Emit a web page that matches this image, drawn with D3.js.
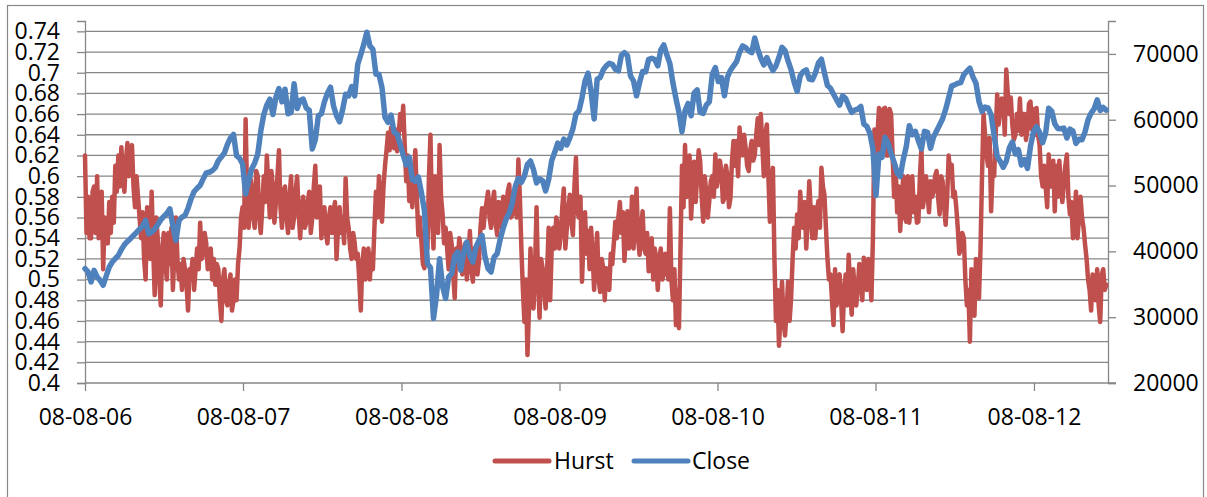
<!DOCTYPE html>
<html><head><meta charset="utf-8">
<script src="https://cdn.jsdelivr.net/npm/d3@7"></script>
<style>
body{margin:0;background:#fff}
svg{display:block}
text{font-family:"Open Sans",sans-serif;fill:#000}
</style>
</head><body>
<svg id="c" width="1207" height="497"></svg>
<script>
// ---- data ----
const startDate = "2006-08-08";
const endDate = "2013-01-26";
const stepDays = 7;          // weekly samples
const seriesNames = ["Hurst", "Close"];
const seriesColors = ["#C0504D", "#4F81BD"];
const xTickDates = ["2006-08-08","2007-08-08","2008-08-08","2009-08-08","2010-08-08","2011-08-08","2012-08-08"];
const leftTicks = [0.4,0.42,0.44,0.46,0.48,0.5,0.52,0.54,0.56,0.58,0.6,0.62,0.64,0.66,0.68,0.7,0.72,0.74];
const rightTicks = [20000,30000,40000,50000,60000,70000];

// Hurst read at each week
const hurstWeekly = [
0.62,0.58,0.54,0.59,0.60,0.56,0.51,0.55,0.575,0.58,
0.61,0.62,0.628,0.585,0.632,0.62,0.59,0.60,0.56,0.565,
0.50,0.55,0.585,0.485,0.54,0.475,0.545,0.50,0.515,0.49,
0.56,0.50,0.49,0.51,0.47,0.505,0.49,0.53,0.555,0.525,
0.535,0.515,0.50,0.495,0.51,0.46,0.51,0.475,0.505,0.48,
0.48,0.53,0.57,0.655,0.55,0.59,0.55,0.60,0.545,0.60,
0.62,0.56,0.59,0.575,0.625,0.55,0.59,0.545,0.60,0.56,
0.60,0.54,0.58,0.555,0.585,0.56,0.61,0.575,0.54,0.57,
0.535,0.57,0.565,0.52,0.57,
0.56,0.598,0.55,0.52,0.535,0.525,0.47,0.53,0.52,0.50,
0.51,0.585,0.60,0.556,0.61,0.642,0.647,0.627,0.624,0.66,
0.668,0.595,0.576,0.57,0.625,0.543,0.537,0.511,0.53,0.64,
0.53,0.563,0.63,0.563,0.55,0.51,0.534,0.482,0.518,0.53,
0.524,0.50,0.547,0.498,0.524,0.518,0.569,0.566,0.585,0.55,
0.585,0.543,0.563,0.58,0.569,0.592,0.563,0.576,0.616,0.53,
0.459,0.427,0.53,0.472,0.57,0.463,0.511,0.472,0.55,0.53,
0.53,0.553,0.543,0.588,0.55,0.582,0.543,0.618,0.56,0.498,
0.565,0.547,0.55,0.49,
0.545,0.488,0.511,0.511,0.49,0.515,0.556,0.56,0.545,0.518,
0.566,0.54,0.53,0.588,0.524,0.566,0.525,0.508,0.54,0.53,
0.49,0.53,0.505,0.52,0.569,0.48,0.456,0.453,0.61,0.63,
0.582,0.559,0.614,0.60,0.614,0.556,0.585,0.576,0.60,0.621,
0.60,0.605,0.579,0.60,0.579,0.634,0.634,0.647,0.62,0.627,
0.605,0.634,0.62,0.656,0.66,0.60,0.65,0.556,0.608,0.46,
0.436,0.498,0.446,0.498,0.482,0.55,0.563,0.585,0.55,0.53,
0.595,0.54,0.54,0.576,0.608,0.582,0.52,0.505,0.456,0.475,
0.505,0.45,0.505,0.524,
0.466,0.49,0.492,0.50,0.521,0.49,0.505,0.54,0.60,0.666,
0.63,0.666,0.62,0.66,0.58,0.565,0.547,0.60,0.556,0.555,
0.60,0.58,0.556,0.627,0.582,0.585,0.595,0.585,0.605,0.563,
0.595,0.553,0.62,0.611,0.585,0.55,0.53,0.54,0.475,0.44,
0.49,0.52,0.482,0.60,0.64,0.61,0.566,0.60,0.679,0.665,
0.672,0.703,0.66,0.65,0.64,0.644,0.64,0.66,0.645,0.672,
0.665,0.666,0.63,0.59,0.59,0.621,0.59,0.566,0.58,0.595,
0.592,0.621,0.563,0.54,0.585,0.56,0.56,0.534,0.50,0.47,
0.50,0.51,0.459,0.51,0.495
];

// Hurst read half a week after each weekly sample
const hurstMidweek = [
0.545,0.54,0.585,0.545,0.54,0.585,0.56,0.535,0.545,0.555,
0.585,0.59,0.60,0.615,0.60,0.63,0.57,0.58,0.54,0.52,
0.57,0.52,0.53,0.56,0.50,0.53,0.515,0.545,0.55,0.525,
0.52,0.515,0.52,0.495,0.51,0.52,0.51,0.51,0.52,0.545,
0.51,0.53,0.52,0.515,0.48,0.50,0.48,0.495,0.47,0.50,
0.515,0.56,0.55,0.58,0.60,0.56,0.605,0.56,0.57,0.575,
0.59,0.605,0.555,0.60,0.57,0.585,0.56,0.58,0.55,0.585,
0.565,0.57,0.55,0.575,0.545,0.59,0.56,0.59,0.56,0.545,
0.56,0.545,0.575,0.55,0.545,
0.535,0.56,0.53,0.545,0.52,0.50,0.515,0.50,0.53,0.525,
0.55,0.56,0.575,0.59,0.625,0.625,0.635,0.645,0.64,0.645,
0.63,0.62,0.60,0.60,0.58,0.56,0.515,0.545,0.60,0.56,
0.60,0.545,0.58,0.535,0.53,0.545,0.505,0.53,0.54,0.505,
0.535,0.52,0.51,0.53,0.505,0.55,0.55,0.575,0.56,0.575,
0.555,0.575,0.55,0.555,0.585,0.56,0.585,0.56,0.58,0.49,
0.50,0.47,0.49,0.51,0.50,0.52,0.49,0.51,0.48,0.55,
0.56,0.53,0.57,0.53,0.57,0.555,0.59,0.565,0.58,0.54,
0.525,0.51,0.525,0.52,
0.50,0.52,0.48,0.495,0.525,0.535,0.54,0.575,0.565,0.545,
0.53,0.58,0.56,0.54,0.55,0.53,0.545,0.525,0.50,0.52,
0.52,0.50,0.525,0.50,0.50,0.51,0.49,0.53,0.57,0.58,
0.62,0.59,0.575,0.625,0.58,0.60,0.56,0.595,0.58,0.59,
0.615,0.575,0.61,0.57,0.615,0.61,0.60,0.625,0.64,0.61,
0.625,0.615,0.64,0.63,0.63,0.64,0.60,0.59,0.52,0.49,
0.465,0.46,0.47,0.46,0.52,0.53,0.54,0.56,0.575,0.56,
0.565,0.57,0.565,0.55,0.59,0.55,0.50,0.48,0.51,0.50,
0.48,0.49,0.475,0.49,
0.51,0.475,0.515,0.48,0.50,0.52,0.48,0.645,0.64,0.62,
0.665,0.62,0.665,0.62,0.61,0.59,0.575,0.56,0.60,0.575,
0.565,0.555,0.60,0.57,0.60,0.565,0.58,0.60,0.58,0.60,
0.57,0.58,0.60,0.58,0.57,0.525,0.545,0.50,0.49,0.51,
0.465,0.50,0.53,0.66,0.62,0.637,0.605,0.64,0.65,0.675,
0.64,0.68,0.676,0.635,0.66,0.675,0.66,0.635,0.67,0.645,
0.64,0.64,0.60,0.61,0.57,0.59,0.615,0.61,0.615,0.575,
0.61,0.58,0.575,0.555,0.54,0.58,0.55,0.52,0.49,0.505,
0.48,0.475,0.505,0.49
];

// Close read at each week
const close = [
37370,36870,35350,37120,36110,35600,34850,36260,37620,38380,
38890,39390,40300,41010,41510,41920,42420,42880,43380,43840,
44690,42670,42930,43380,44040,44800,45300,45760,46460,43840,
41660,44690,45200,45450,46560,47980,49090,49590,50050,51010,
51920,52020,52270,52720,53780,54340,54950,56260,57220,57770,
54540,54140,53280,48730,50700,52520,53430,54790,58280,60800,
62220,63130,60800,63430,64740,62720,64640,60900,61110,65450,
61710,62930,63130,61810,61410,55550,56970,60600,60900,62720,
64040,64950,62120,60600,59690,
61510,63880,63630,65050,63630,68430,69890,71460,73300,71210,
70700,66910,66910,64890,60350,59590,60700,58080,57820,56310,
54640,53130,54290,50910,50650,51310,48940,46210,38130,37520,
29800,33330,38890,34700,32830,36110,36610,39290,39900,37120,
39900,41410,39290,38380,40650,41660,42420,39140,37370,36870,
39140,39640,41820,43530,44950,45860,47370,49900,51110,50500,
51460,53230,53730,52420,50400,51010,50750,49190,50910,53780,
55050,56460,55650,57070,56160,57270,58630,60850,61360,63330,
65900,67070,64240,60100,
66160,66410,67570,68180,68580,68430,67670,67420,69790,70200,
69740,66660,65900,63630,65650,67320,67270,69190,69340,69140,
68180,70600,71360,69840,68530,65600,63230,61110,58180,61360,
62470,60600,64040,64540,61110,60960,62220,62720,66910,67920,
65800,66410,63630,66510,67520,68180,68830,70250,71210,70950,
70450,70200,72420,70700,69340,68330,69440,68380,67470,68180,
69490,71000,70500,68930,67570,65700,64290,66660,67320,67570,
66160,66060,67070,68630,69190,67120,65200,64790,63880,63030,
62220,63630,63230,62120,
61110,61460,61610,62020,59340,58990,57930,55550,48480,54790,
54290,57320,56410,54900,53530,51920,51360,53940,55910,59090,
57720,58230,56810,55550,58230,58080,55650,57370,58280,59190,
60150,61560,63330,65150,65300,65550,65650,66860,67370,67820,
66510,65550,62770,61260,61920,61810,60750,57570,54440,53680,
52770,53680,55700,56610,54790,55450,53130,53940,52620,55960,
58230,58940,58080,56510,57980,61760,61310,59390,58680,58630,
58730,57220,58580,58280,56410,57020,56970,58180,60000,61010,
61660,63030,61410,61860,61460
];

// ---- build ----
const parse = d3.utcParse("%Y-%m-%d");
const t0 = parse(startDate);
const DAY = 864e5;
const dateAt = w => new Date(+t0 + w * stepDays * DAY);
const hurstData = [];
hurstWeekly.forEach((v, i) => {
  hurstData.push({date: dateAt(i), value: v});
  if (i < hurstMidweek.length) hurstData.push({date: dateAt(i + 0.5), value: hurstMidweek[i]});
});
const closeData = close.map((v, i) => ({date: dateAt(i), value: v}));

const L = 85, R = 1108, T = 21, B = 383;
const x = d3.scaleUtc().domain([t0, parse(endDate)]).range([L, R]);
const yL = d3.scaleLinear().domain([0.4, 0.75]).range([B, T]);
const yR = d3.scaleLinear().domain([20000, 75000]).range([B, T]);

const svg = d3.select("#c");
const gridColor = "#878787";

// outer frame
svg.append("rect").attr("x", 7.5).attr("y", 5.5).attr("width", 1196).attr("height", 520)
  .attr("fill", "none").attr("stroke", gridColor).attr("stroke-width", 1.2);

// gridlines
svg.append("g").selectAll("line").data(leftTicks.filter(t => t > 0.4)).join("line")
  .attr("x1", L).attr("x2", R)
  .attr("y1", d => yL(d)).attr("y2", d => yL(d))
  .attr("stroke", gridColor).attr("stroke-width", 1.3);

// axes
const fmtL = d => String(+d.toFixed(2));
const gL = svg.append("g").attr("transform", `translate(${L},0)`)
  .call(d3.axisLeft(yL).tickValues(leftTicks).tickFormat(fmtL).tickSize(8).tickPadding(17));
const gR = svg.append("g").attr("transform", `translate(${R},0)`)
  .call(d3.axisRight(yR).tickValues(rightTicks).tickFormat(d3.format("d")).tickSize(8).tickPadding(17));
const gB = svg.append("g").attr("transform", `translate(0,${B})`)
  .call(d3.axisBottom(x).tickValues(xTickDates.map(parse)).tickFormat(d3.utcFormat("%d-%m-%y")).tickSize(8).tickPadding(18));

[gL, gR, gB].forEach(g => {
  g.select(".domain").attr("stroke", gridColor).attr("stroke-width", 1.3);
  g.selectAll(".tick line").attr("stroke", gridColor).attr("stroke-width", 1.3);
  g.selectAll("text").attr("font-size", 23).attr("font-family", "'Open Sans', sans-serif").attr("fill", "#000");
});
gB.select(".domain").attr("d", `M${L},0H${R + 8}`);

// series (Close on the secondary axis drawn on top)
const lineL = d3.line().x(d => x(d.date)).y(d => yL(d.value));
const lineR = d3.line().x(d => x(d.date)).y(d => yR(d.value));
svg.append("path").datum(hurstData).attr("d", lineL)
  .attr("fill", "none").attr("stroke", seriesColors[0]).attr("stroke-width", 4.5)
  .attr("stroke-linejoin", "round").attr("stroke-linecap", "round");
svg.append("path").datum(closeData).attr("d", lineR)
  .attr("fill", "none").attr("stroke", seriesColors[1]).attr("stroke-width", 5.5)
  .attr("stroke-linejoin", "round").attr("stroke-linecap", "round");

// legend
const legendItems = [{x: 495, tx: 554}, {x: 634, tx: 692}];
const lg = svg.append("g");
seriesNames.forEach((name, i) => {
  const it = legendItems[i];
  lg.append("line").attr("x1", it.x).attr("x2", it.x + 54).attr("y1", 461).attr("y2", 461)
    .attr("stroke", seriesColors[i]).attr("stroke-width", 5).attr("stroke-linecap", "round");
  lg.append("text").attr("x", it.tx).attr("y", 469).attr("font-size", 23).text(name);
});
</script>
</body></html>
